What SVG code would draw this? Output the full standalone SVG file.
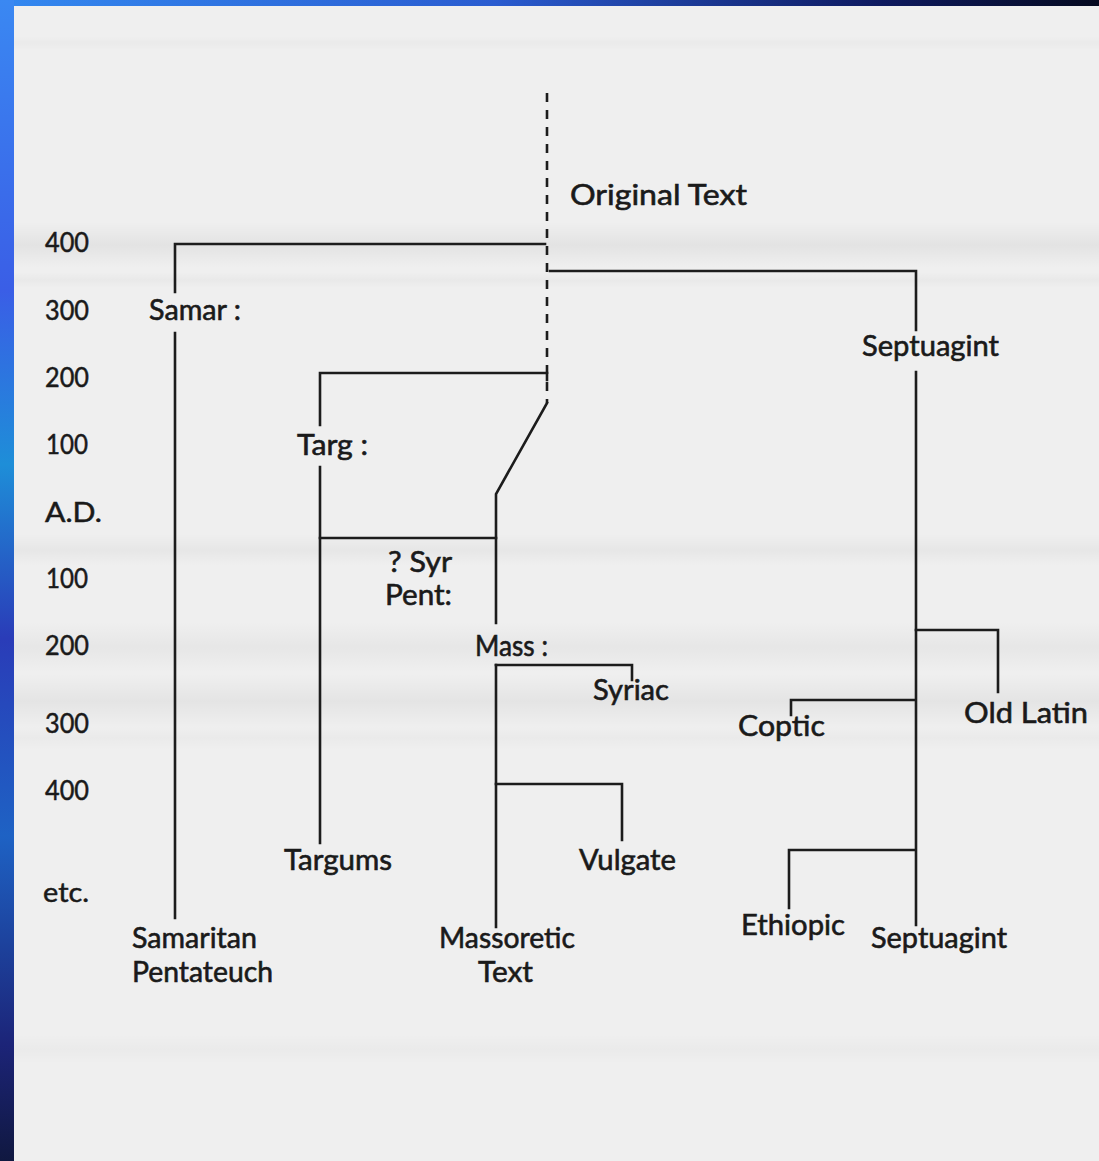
<svg xmlns="http://www.w3.org/2000/svg" width="1099" height="1161" viewBox="0 0 1099 1161">
  <defs>
    <linearGradient id="topBar" x1="0" y1="0" x2="1" y2="0">
      <stop offset="0" stop-color="#3388f0"/>
      <stop offset="0.45" stop-color="#2a5cd0"/>
      <stop offset="0.8" stop-color="#0e1a60"/>
      <stop offset="1" stop-color="#050a20"/>
    </linearGradient>
    <linearGradient id="leftBar" x1="0" y1="0" x2="0" y2="1">
      <stop offset="0" stop-color="#3a88f2"/>
      <stop offset="0.25" stop-color="#3a5ee6"/>
      <stop offset="0.4" stop-color="#1e8ed8"/>
      <stop offset="0.55" stop-color="#2a3cb8"/>
      <stop offset="0.72" stop-color="#1e62c4"/>
      <stop offset="0.9" stop-color="#1c2478"/>
      <stop offset="1" stop-color="#101840"/>
    </linearGradient>
    <linearGradient id="bandFade" x1="0" y1="0" x2="0" y2="1">
      <stop offset="0" stop-color="#000" stop-opacity="0"/>
      <stop offset="0.5" stop-color="#000" stop-opacity="1"/>
      <stop offset="1" stop-color="#000" stop-opacity="0"/>
    </linearGradient>
    <style>
      .ln { fill: none; stroke: #1c1c1c; stroke-width: 2.6; stroke-linecap: square; stroke-linejoin: miter; }
      .dash { fill: none; stroke: #1c1c1c; stroke-width: 2.6; stroke-dasharray: 9 8; }
      .lbl { font-family: Lato, "Liberation Sans", sans-serif; font-size: 29px; fill: #1a1a1a; stroke: #1a1a1a; stroke-width: 0.6; }
      .ax { font-family: Lato, "Liberation Sans", sans-serif; font-size: 27px; fill: #1a1a1a; stroke: #1a1a1a; stroke-width: 0.5; }
      .band { fill: url(#bandFade); }
    </style>
  </defs>

  <!-- paper -->
  <rect x="0" y="0" width="1099" height="1161" fill="#efefef"/>
  <g id="paper-bands">
    <rect class="band" x="14" y="36" width="1085" height="14" opacity="0.02"/>
    <rect class="band" x="14" y="222" width="1085" height="46" opacity="0.05"/>
    <rect class="band" x="14" y="272" width="1085" height="16" opacity="0.025"/>
    <rect class="band" x="14" y="534" width="1085" height="32" opacity="0.035"/>
    <rect class="band" x="14" y="622" width="1085" height="50" opacity="0.035"/>
    <rect class="band" x="14" y="674" width="1085" height="54" opacity="0.045"/>
    <rect class="band" x="14" y="726" width="1085" height="24" opacity="0.02"/>
    <rect class="band" x="14" y="1034" width="1085" height="30" opacity="0.02"/>
  </g>

  <!-- frame -->
  <rect x="0" y="0" width="1099" height="6" fill="url(#topBar)"/>
  <rect x="0" y="0" width="14" height="1161" fill="url(#leftBar)"/>

  <g id="connectors">
    <path class="dash" d="M547,93 V403"/>
    <path class="ln" d="M175,918 V333 M175,292 V244 H545"/>
    <path class="ln" d="M550,271 H916 V330 M916,372 V925"/>
    <path class="ln" d="M547,380 V373 H320 V425 M320,467 V843"/>
    <path class="ln" d="M320,538 H496"/>
    <path class="ln" d="M547,403 L496,494 V623 M496,665 V927"/>
    <path class="ln" d="M496,665 H632 V680"/>
    <path class="ln" d="M496,784 H622 V840"/>
    <path class="ln" d="M916,630 H998 V692"/>
    <path class="ln" d="M914,700 H791 V715"/>
    <path class="ln" d="M914,850 H789 V908"/>
  </g>

  <g id="axis">
    <text class="ax" x="45" y="252" textLength="44" lengthAdjust="spacingAndGlyphs">400</text>
    <text class="ax" x="45" y="320" textLength="44" lengthAdjust="spacingAndGlyphs">300</text>
    <text class="ax" x="45" y="387" textLength="44" lengthAdjust="spacingAndGlyphs">200</text>
    <text class="ax" x="46" y="454" textLength="42" lengthAdjust="spacingAndGlyphs">100</text>
    <text class="ax" x="45" y="522" textLength="57" lengthAdjust="spacingAndGlyphs">A.D.</text>
    <text class="ax" x="46" y="588" textLength="42" lengthAdjust="spacingAndGlyphs">100</text>
    <text class="ax" x="45" y="655" textLength="44" lengthAdjust="spacingAndGlyphs">200</text>
    <text class="ax" x="45" y="733" textLength="44" lengthAdjust="spacingAndGlyphs">300</text>
    <text class="ax" x="45" y="800" textLength="44" lengthAdjust="spacingAndGlyphs">400</text>
    <text class="ax" x="43" y="902" textLength="46" lengthAdjust="spacingAndGlyphs">etc.</text>
  </g>

  <g id="node-original"><text class="lbl" x="570" y="205" textLength="177" lengthAdjust="spacingAndGlyphs">Original Text</text></g>
  <g id="node-samar"><text class="lbl" x="149" y="320" textLength="92" lengthAdjust="spacingAndGlyphs">Samar :</text></g>
  <g id="node-septuagint-top"><text class="lbl" x="862" y="356" textLength="137" lengthAdjust="spacingAndGlyphs">Septuagint</text></g>
  <g id="node-targ"><text class="lbl" x="297" y="455" textLength="71" lengthAdjust="spacingAndGlyphs">Targ :</text></g>
  <g id="node-syrpent">
    <text class="lbl" x="388" y="572" textLength="64" lengthAdjust="spacingAndGlyphs">? Syr</text>
    <text class="lbl" x="385" y="605" textLength="67" lengthAdjust="spacingAndGlyphs">Pent:</text>
  </g>
  <g id="node-mass"><text class="lbl" x="475" y="656" textLength="73" lengthAdjust="spacingAndGlyphs">Mass :</text></g>
  <g id="node-syriac"><text class="lbl" x="593" y="700" textLength="76" lengthAdjust="spacingAndGlyphs">Syriac</text></g>
  <g id="node-vulgate"><text class="lbl" x="579" y="870" textLength="97" lengthAdjust="spacingAndGlyphs">Vulgate</text></g>
  <g id="node-oldlatin"><text class="lbl" x="964" y="723" textLength="124" lengthAdjust="spacingAndGlyphs">Old Latin</text></g>
  <g id="node-coptic"><text class="lbl" x="738" y="736" textLength="87" lengthAdjust="spacingAndGlyphs">Coptic</text></g>
  <g id="node-ethiopic"><text class="lbl" x="741" y="935" textLength="104" lengthAdjust="spacingAndGlyphs">Ethiopic</text></g>
  <g id="node-septuagint-bottom"><text class="lbl" x="871" y="948" textLength="136" lengthAdjust="spacingAndGlyphs">Septuagint</text></g>
  <g id="node-targums"><text class="lbl" x="284" y="870" textLength="108" lengthAdjust="spacingAndGlyphs">Targums</text></g>
  <g id="node-samaritan">
    <text class="lbl" x="132" y="948" textLength="125" lengthAdjust="spacingAndGlyphs">Samaritan</text>
    <text class="lbl" x="132" y="982" textLength="141" lengthAdjust="spacingAndGlyphs">Pentateuch</text>
  </g>
  <g id="node-massoretic">
    <text class="lbl" x="439" y="948" textLength="136" lengthAdjust="spacingAndGlyphs">Massoretic</text>
    <text class="lbl" x="478" y="982" textLength="55" lengthAdjust="spacingAndGlyphs">Text</text>
  </g>
</svg>
